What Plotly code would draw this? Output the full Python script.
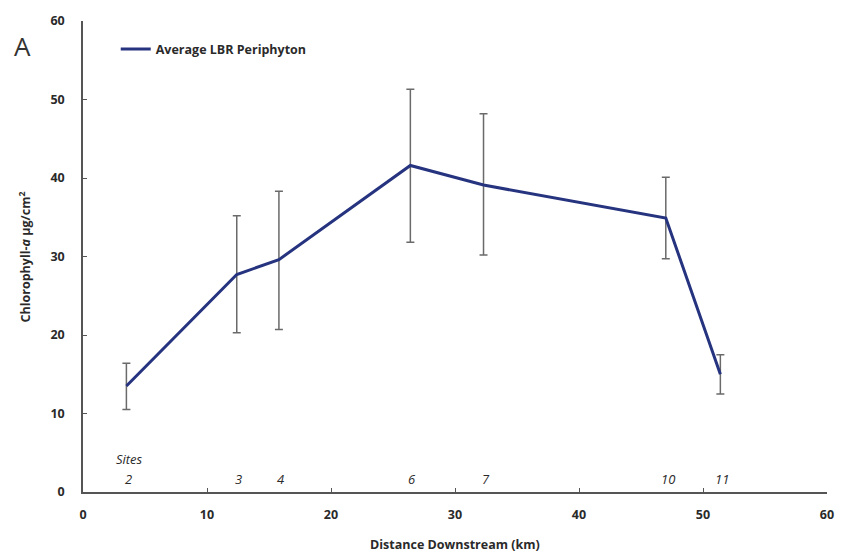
import plotly.graph_objects as go

# Data
distance_km = [3.5, 12.4, 15.8, 26.4, 32.3, 47.0, 51.4]
chl_mean = [13.5, 27.7, 29.6, 41.6, 39.1, 34.9, 15.0]
err_plus = [2.9, 7.5, 8.7, 9.7, 9.1, 5.2, 2.5]
err_minus = [3.0, 7.4, 8.9, 9.8, 8.9, 5.2, 2.5]
site_labels = ["2", "3", "4", "6", "7", "10", "11"]
x_ticks = [0, 10, 20, 30, 40, 50, 60]
y_ticks = [0, 10, 20, 30, 40, 50, 60]

FONT = "Open Sans"
TXT = "#2a2a2a"

fig = go.Figure()
fig.add_trace(go.Scatter(
    x=distance_km, y=chl_mean, mode="lines",
    name="Average LBR Periphyton",
    line=dict(color="#26337f", width=3),
    error_y=dict(type="data", symmetric=False, array=err_plus, arrayminus=err_minus,
                 color="#6a6a6a", thickness=1.5, width=4),
))

annotations = []
for xv, lab in zip(distance_km, site_labels):
    annotations.append(dict(x=xv, y=0, xref="x", yref="y", text=f"<i>{lab}</i>",
                            showarrow=False, yanchor="bottom", yshift=2, xshift=2,
                            font=dict(family=FONT, size=13, color=TXT)))
annotations.append(dict(x=distance_km[0], y=0, xref="x", yref="y", text="<i>Sites</i>",
                        showarrow=False, yanchor="bottom", yshift=22, xshift=3,
                        font=dict(family=FONT, size=13, color=TXT)))
annotations.append(dict(x=-83/744 + 12/744, y=(492 - 41) / 476, xref="paper", yref="paper",
                        text="A", showarrow=False, xanchor="left", yanchor="middle",
                        font=dict(family=FONT, size=26, color="#333")))
annotations.append(dict(x=0.5, y=-53/476, xref="paper", yref="paper",
                        text="<b>Distance Downstream (km)</b>", showarrow=False,
                        xanchor="center", yanchor="middle",
                        font=dict(family=FONT, size=12.5, color=TXT)))
annotations.append(dict(x=-58/744, y=(492 - 255) / 476, xref="paper", yref="paper",
                        text="<b>Chlorophyll-<i>a</i> µg/cm<sup>2</sup></b>", showarrow=False,
                        textangle=-90, xanchor="center", yanchor="middle",
                        font=dict(family=FONT, size=12.5, color=TXT)))

fig.update_layout(
    width=846, height=554,
    margin=dict(l=83, r=19, t=16, b=62),
    paper_bgcolor="white", plot_bgcolor="white",
    font=dict(family=FONT, size=12, color=TXT),
    showlegend=True,
    legend=dict(x=0.044, y=0.94, xanchor="left", yanchor="middle",
                bgcolor="rgba(0,0,0,0)", itemwidth=30,
                font=dict(family=FONT, size=12.5, color=TXT, weight="bold")),
    annotations=annotations,
)
fig.update_xaxes(range=[0, 60], tickvals=x_ticks, showgrid=False, zeroline=False,
                 showline=True, linecolor="#555", linewidth=1.5,
                 ticks="inside", ticklen=4, tickcolor="#555", ticklabelstandoff=10,
                 tickfont=dict(family=FONT, size=12.5, color=TXT, weight="bold"))
fig.update_yaxes(range=[0, 60], tickvals=y_ticks, showgrid=False, zeroline=False,
                 showline=True, linecolor="#555", linewidth=1.5,
                 ticks="inside", ticklen=4, tickcolor="#555", ticklabelstandoff=14,
                 tickfont=dict(family=FONT, size=12.5, color=TXT, weight="bold"))

fig.write_html("out.html")
